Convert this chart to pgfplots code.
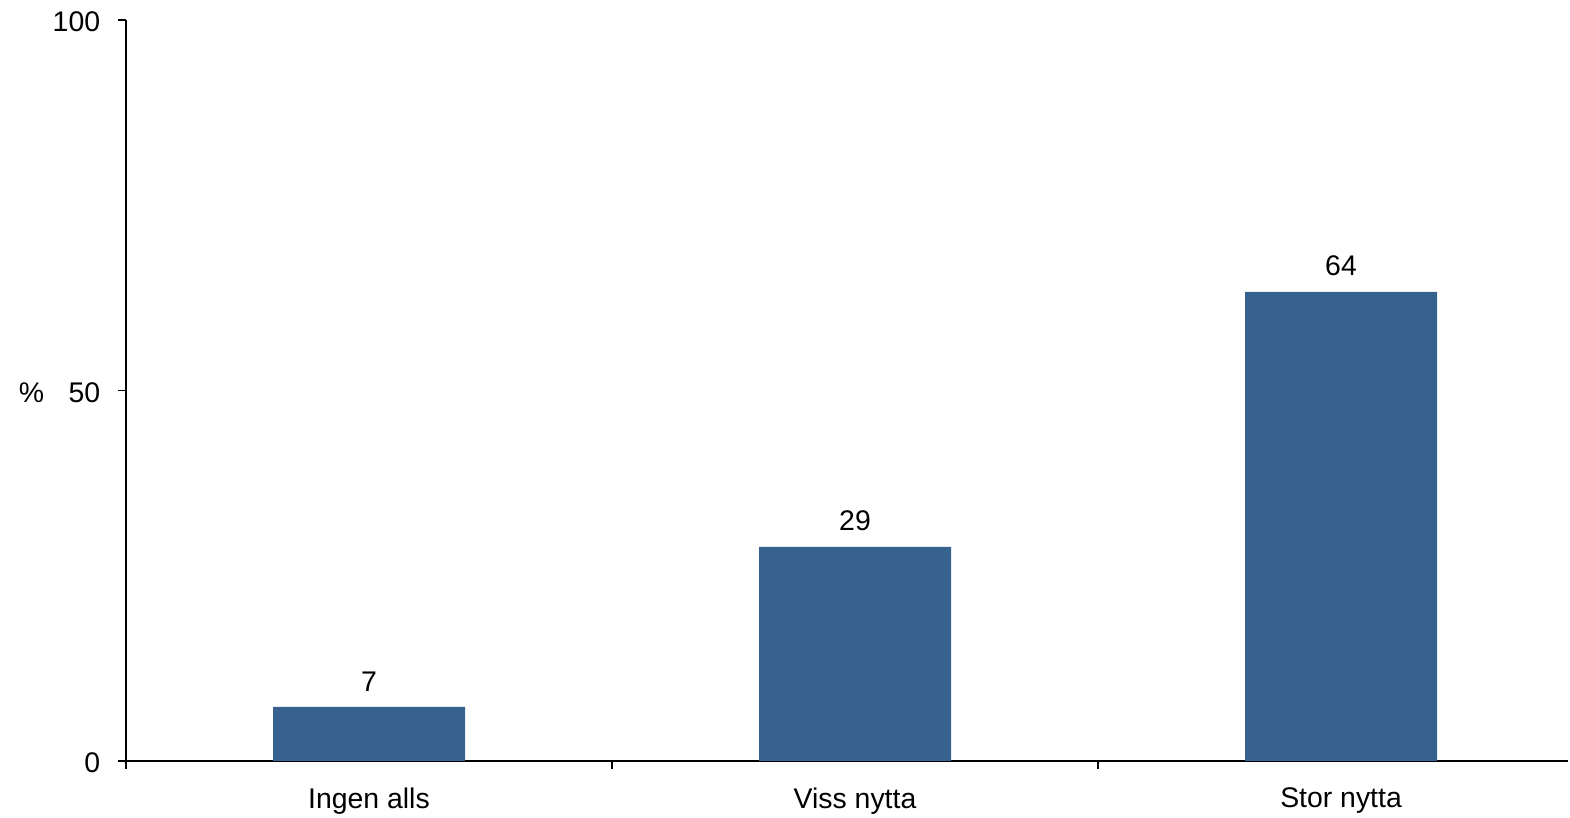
\documentclass[border=0pt]{standalone}
\usepackage{pgfplots}
\pgfplotsset{compat=1.18}
\usepackage{fontspec}
\setmainfont{Liberation Sans}
\definecolor{barblue}{HTML}{37618F}
\begin{document}
\fontsize{14.2}{17}\selectfont
\begin{tikzpicture}
\begin{axis}[
  at={(0,0)}, anchor=south west,
  scale only axis, width=721pt, height=370.5pt,
  xmin=-0.5, xmax=2.467, ymin=0, ymax=100,
  axis x line*=bottom, axis y line*=left,
  axis line style={black, line width=0.9pt},
  xtick={-0.5,0.5,1.5},
  xticklabels={},
  extra x ticks={0,1,2},
  extra x tick labels={Ingen alls, Viss nytta, Stor nytta},
  extra x tick style={major tick length=0pt, xticklabel style={yshift=-8.5pt}},
  ytick={0,50,100},
  tick align=outside,
  major tick length=4pt,
  tick style={black, line width=0.9pt},
  yticklabel style={xshift=-4pt, yshift=-1pt},
  /pgf/number format/assume math mode=true,
  ticklabel style={font=\fontsize{14.2}{17}\selectfont},
  ybar, bar width=96pt,
  point meta=explicit symbolic,
  nodes near coords,
  nodes near coords style={font=\fontsize{14.2}{17}\selectfont, black, yshift=3pt},
  clip=false,
]
\addplot[fill=barblue, draw=none] coordinates {(0,7.3) [7] (1,28.9) [29] (2,63.3) [64]};
\node[anchor=east, font=\fontsize{14.2}{17}\selectfont] at (rel axis cs:0,0.5) [xshift=-36pt, yshift=-1pt] {\%};
\end{axis}
\pgfresetboundingbox
\path[use as bounding box] (-63pt,-28.5pt) rectangle (722pt,380.5pt);
\end{tikzpicture}
\end{document}
